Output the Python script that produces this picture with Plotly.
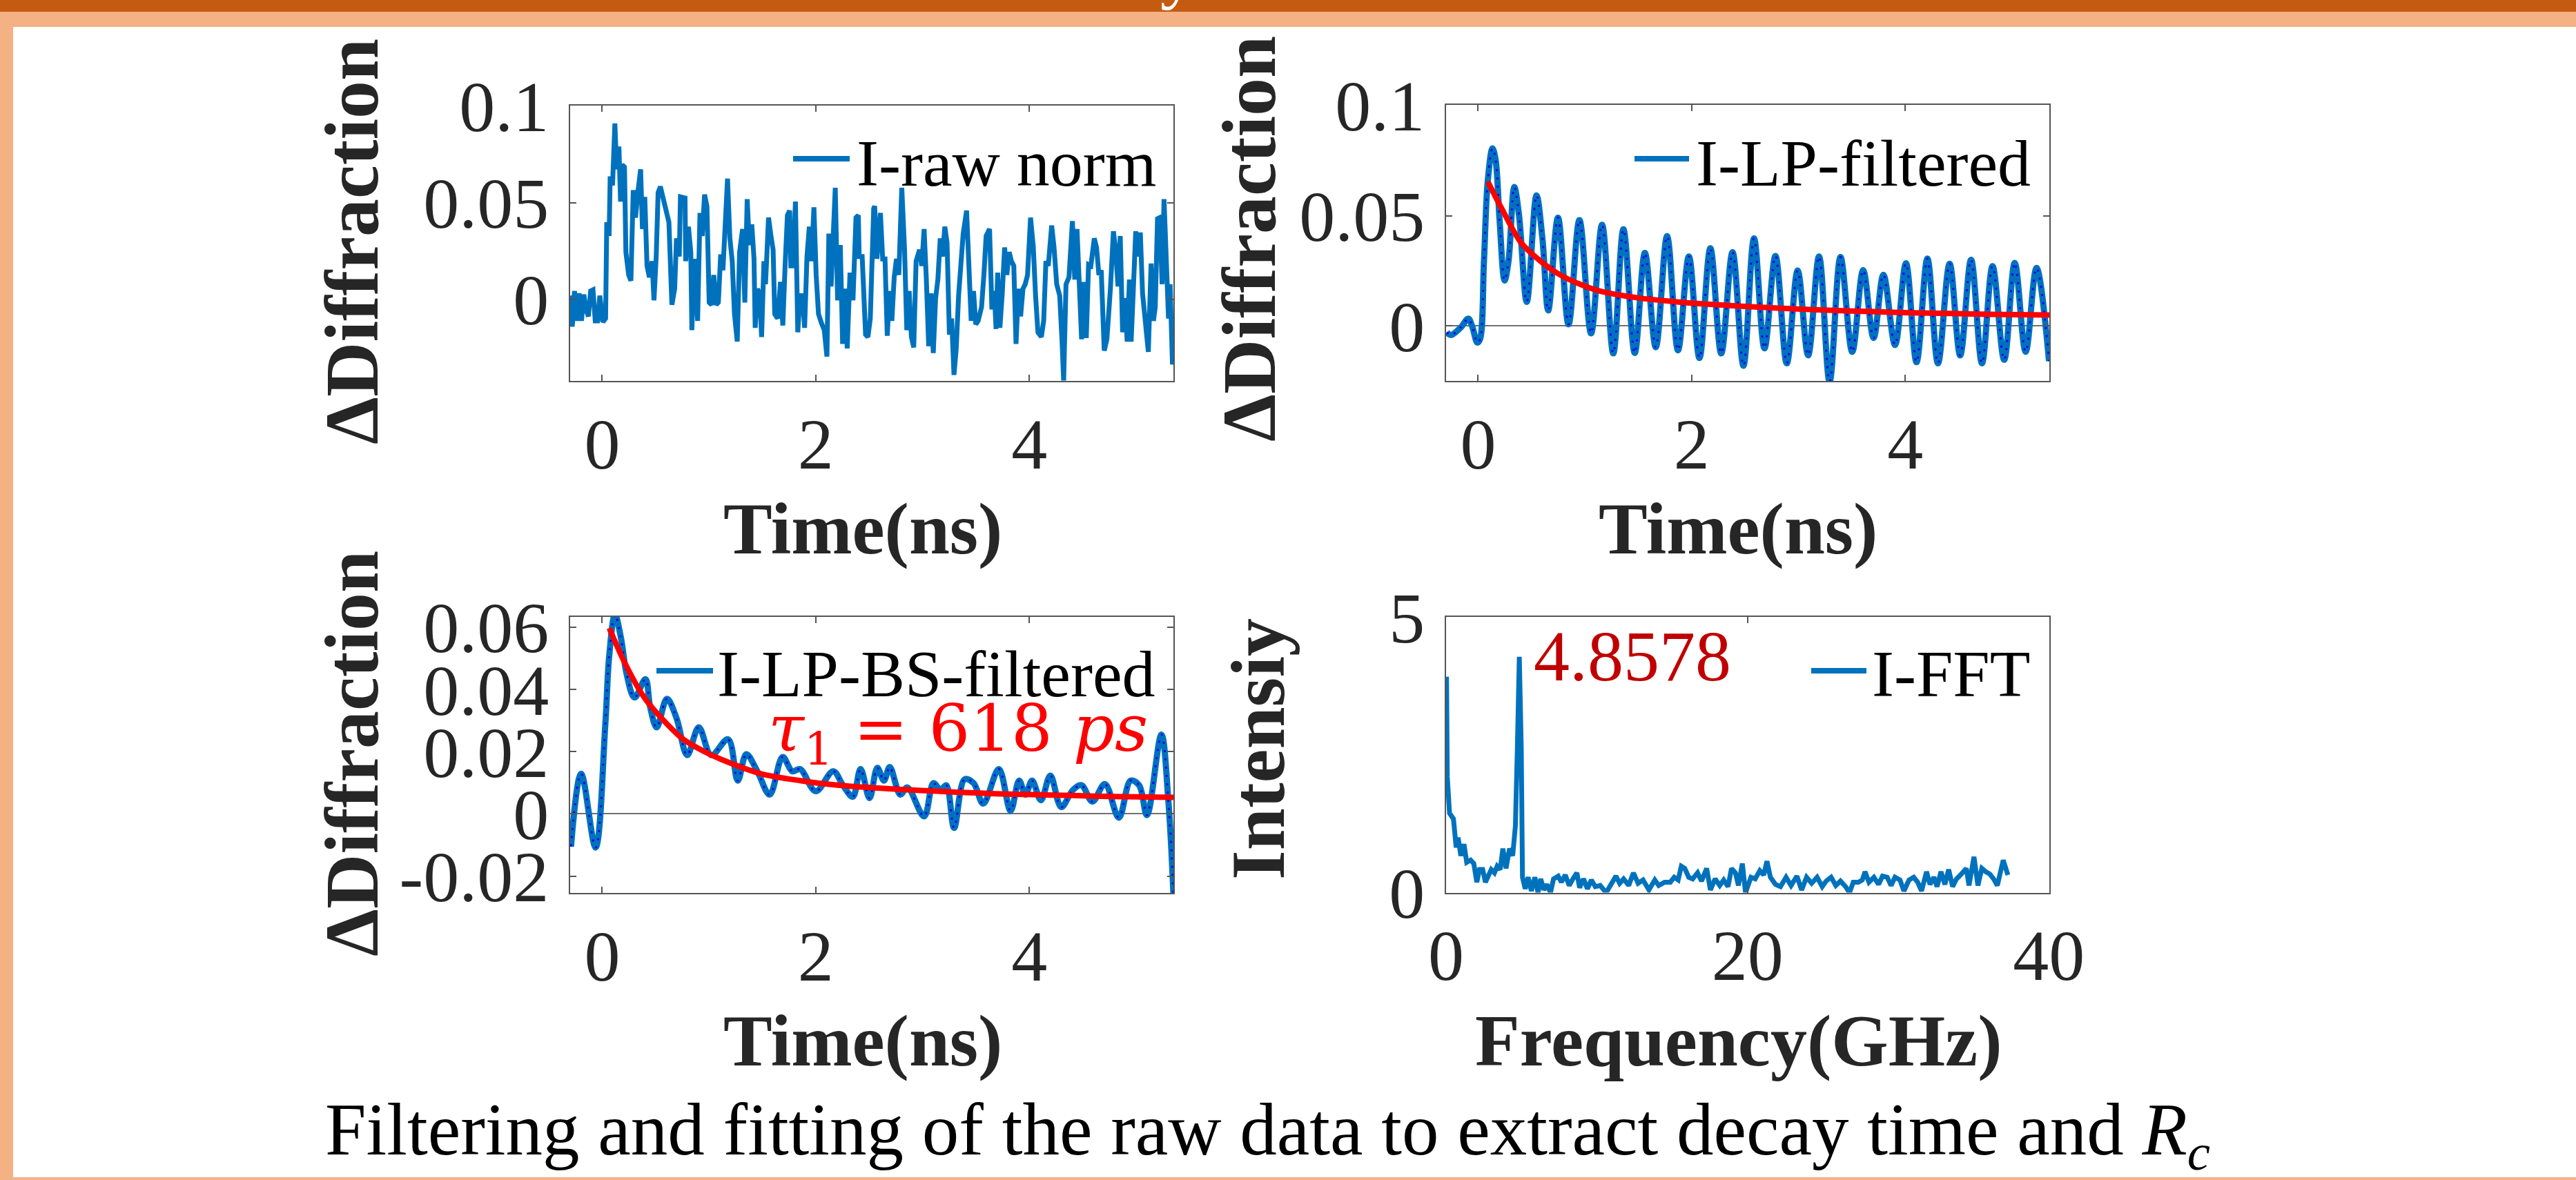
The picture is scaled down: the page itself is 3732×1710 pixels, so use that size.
import plotly.graph_objects as go

# ---------------- data ----------------
# panel 1: raw normalised signal
raw_t = [-0.312, -0.295, -0.280, -0.259, -0.237, -0.216, -0.194, -0.172, -0.151, -0.129,
         -0.108, -0.086, -0.065, -0.043, -0.022, 0.006, 0.032, 0.043, 0.065, 0.075,
         0.097, 0.119, 0.136, 0.157, 0.172, 0.187, 0.209, 0.222, 0.248, 0.269,
         0.291, 0.312, 0.334, 0.360, 0.377, 0.399, 0.420, 0.442, 0.468, 0.485,
         0.506, 0.524, 0.545, 0.571, 0.593, 0.625, 0.653, 0.679, 0.696, 0.722,
         0.733, 0.754, 0.776, 0.782, 0.808, 0.830, 0.840, 0.862, 0.884, 0.894,
         0.916, 0.937, 0.959, 0.981, 1.002, 1.024, 1.045, 1.067, 1.088, 1.110,
         1.131, 1.153, 1.174, 1.196, 1.218, 1.239, 1.265, 1.287, 1.315, 1.336,
         1.358, 1.379, 1.401, 1.422, 1.433, 1.455, 1.476, 1.493, 1.515, 1.530,
         1.558, 1.584, 1.601, 1.616, 1.644, 1.670, 1.692, 1.713, 1.735, 1.756,
         1.767, 1.789, 1.810, 1.832, 1.853, 1.875, 1.896, 1.918, 1.940, 1.961,
         1.983, 2.004, 2.026, 2.054, 2.080, 2.105, 2.123, 2.144, 2.166, 2.183,
         2.205, 2.230, 2.252, 2.274, 2.295, 2.321, 2.349, 2.377, 2.399, 2.407,
         2.435, 2.467, 2.489, 2.511, 2.543,
         2.552, 2.573, 2.606, 2.627, 2.649, 2.670, 2.692, 2.713, 2.735, 2.756,
         2.778, 2.806, 2.832, 2.853, 2.875, 2.896, 2.918, 2.940, 2.972, 2.993,
         3.015, 3.036, 3.058, 3.080, 3.101, 3.123, 3.144, 3.166, 3.187, 3.209,
         3.230, 3.252, 3.273, 3.295, 3.316, 3.338, 3.360, 3.381, 3.413, 3.435,
         3.456, 3.478, 3.499, 3.521, 3.553, 3.575, 3.596, 3.628, 3.650, 3.672,
         3.689, 3.704, 3.725, 3.747, 3.769, 3.790, 3.812, 3.833, 3.855, 3.876,
         3.898, 3.919, 3.941, 3.962, 3.984, 4.012, 4.038, 4.059, 4.081, 4.113,
         4.135, 4.156, 4.178, 4.210, 4.232, 4.257, 4.285, 4.307, 4.322, 4.344,
         4.372, 4.404, 4.426, 4.447, 4.469, 4.490, 4.512, 4.534, 4.555, 4.577,
         4.609, 4.630, 4.652, 4.674, 4.702, 4.727, 4.760, 4.788, 4.809, 4.831,
         4.852, 4.874, 4.895, 4.917, 4.938, 4.954, 4.975, 4.997, 5.018, 5.040,
         5.061, 5.083, 5.115, 5.141, 5.163, 5.180, 5.201, 5.223, 5.244, 5.262,
         5.287, 5.304, 5.319, 5.341, 5.350]
raw_y = [-0.0063, 0.0020, -0.0140, 0.0044, -0.0110, 0.0032, -0.0110, 0.0026, -0.0051, -0.0087,
         0.0044, 0.0050, -0.0110, -0.0110, 0.0020, -0.0116, -0.0098, 0.0399, 0.0328, 0.0636,
         0.0589, 0.0909, 0.0672, 0.0790, 0.0506, 0.0696, 0.0684, 0.0245, 0.0127, 0.0097,
         0.0565, 0.0423, 0.0553, 0.0672, 0.0364, 0.0530, 0.0174, 0.0115, 0.0198, -0.0004,
         0.0222, 0.0553, 0.0583, 0.0530, 0.0470, 0.0399, -0.0027, 0.0056, 0.0316, 0.0222,
         0.0530, 0.0530, 0.0524, 0.0198, 0.0376, 0.0245, -0.0158, 0.0210, -0.0110, -0.0110,
         0.0447, 0.0328, 0.0542, 0.0482, -0.0015, -0.0027, 0.0127, -0.0027, -0.0015, 0.0233,
         0.0151, 0.0364, 0.0624, 0.0316, 0.0198, -0.0075, -0.0217, 0.0245, 0.0364, -0.0015,
         0.0518, 0.0281, 0.0388, 0.0210, -0.0146, 0.0056, 0.0020, -0.0193, 0.0198, 0.0079,
         0.0423, 0.0316, 0.0257, -0.0075, -0.0098, 0.0091, -0.0134, 0.0174, 0.0435, 0.0459,
         0.0174, 0.0174, 0.0506, -0.0169, 0.0020, 0.0020, -0.0146, 0.0222, 0.0376, 0.0198,
         0.0476, 0.0127, -0.0075, -0.0122, -0.0158, -0.0294, 0.0340, 0.0068, 0.0435, 0.0577,
         -0.0004, 0.0281, -0.0229, 0.0056, -0.0252, 0.0139, -0.0004, 0.0423, 0.0435, 0.0222,
         0.0222, -0.0181, -0.0193, -0.0098, 0.0470,
         0.0482, 0.0210, 0.0447, 0.0210, 0.0210, -0.0187, 0.0044, -0.0110, 0.0115, 0.0210,
         0.0127, 0.0577, 0.0257, -0.0158, 0.0044, -0.0193, -0.0247, 0.0198, 0.0257, 0.0174,
         0.0364, 0.0103, -0.0241, 0.0032, -0.0276, 0.0008, 0.0103, 0.0316, 0.0222, 0.0376,
         0.0293, -0.0181, -0.0098, -0.0389, -0.0252, 0.0020, 0.0198, 0.0340, 0.0459, 0.0198,
         -0.0110, 0.0044, -0.0128, -0.0110, -0.0039, 0.0127, 0.0328, 0.0364, -0.0051, 0.0044,
         -0.0152, 0.0139, -0.0146, 0.0032, 0.0269, 0.0127, 0.0245, 0.0198, 0.0174, -0.0229,
         0.0056, -0.0087, 0.0056, 0.0079, 0.0127, 0.0423, 0.0269, 0.0020, -0.0169, -0.0193,
         -0.0110, 0.0198, 0.0174, 0.0382, 0.0269, 0.0079, 0.0020, -0.0217, -0.0418, 0.0079,
         0.0115, 0.0405, 0.0103, 0.0364, -0.0027, -0.0205, 0.0091, -0.0199, 0.0180, 0.0174,
         0.0316, 0.0269, 0.0127, 0.0151, -0.0264, -0.0205, 0.0056, 0.0352, 0.0257, 0.0068,
         0.0328, -0.0169, 0.0008, -0.0217, 0.0103, -0.0217, 0.0056, 0.0352, 0.0222, 0.0346,
         0.0032, -0.0110, -0.0270, 0.0186, -0.0110, -0.0039, 0.0417, 0.0423, 0.0079, 0.0518,
         0.0210, -0.0098, 0.0079, -0.0335, -0.0276]

# panel 2: low-pass filtered signal (turning points) + exponential fit
lp_t = [-0.292, -0.255, -0.164, -0.091, -0.055, -0.007, 0.018, 0.055, 0.091, 0.135,
        0.164, 0.201, 0.248, 0.285, 0.339, 0.383, 0.456, 0.547, 0.602, 0.657,
        0.748, 0.847, 0.949, 1.058, 1.161, 1.266, 1.361, 1.467, 1.562, 1.664,
        1.770, 1.872, 1.974, 2.073, 2.175, 2.277, 2.383, 2.485, 2.584, 2.682,
        2.785, 2.891, 2.993, 3.091, 3.193, 3.292, 3.394, 3.504, 3.606, 3.704,
        3.796, 3.905, 4.007, 4.106, 4.208, 4.307, 4.416, 4.515, 4.617, 4.719,
        4.818, 4.927, 5.026, 5.128, 5.230, 5.347]
lp_y = [-0.0029, -0.0042, -0.0008, 0.0033, -0.0003, -0.0076, -0.0061, 0.0294, 0.0660, 0.0806,
        0.0754, 0.0482, 0.0206, 0.0294, 0.0630, 0.0503, 0.0109, 0.0592, 0.0399, 0.0070,
        0.0491, 0.0007, 0.0480, -0.0034, 0.0459, -0.0125, 0.0438, -0.0123, 0.0331, -0.0097,
        0.0407, -0.0111, 0.0315, -0.0146, 0.0352, -0.0125, 0.0334, -0.0181, 0.0397, -0.0102,
        0.0317, -0.0170, 0.0251, -0.0134, 0.0315, -0.0254, 0.0312, -0.0118, 0.0253, -0.0055,
        0.0232, -0.0087, 0.0284, -0.0165, 0.0305, -0.0170, 0.0282, -0.0134, 0.0300, -0.0170,
        0.0271, -0.0154, 0.0286, -0.0118, 0.0263, -0.0160]
fit2_t = [0.091, 0.219, 0.401, 0.584, 0.766, 0.949, 1.131, 1.496, 1.861, 2.226,
          2.591, 2.956, 3.321, 3.686, 4.051, 4.416, 4.781, 5.350]
fit2_y = [0.0654, 0.0534, 0.0378, 0.0294, 0.0232, 0.0190, 0.0159, 0.0127, 0.0109, 0.0096,
          0.0086, 0.0077, 0.0070, 0.0065, 0.0059, 0.0056, 0.0052, 0.0049]

# panel 3: low-pass + band-stop filtered signal + fit
bs_t = [-0.292, -0.197, -0.062, 0.029, 0.066, 0.120, 0.175, 0.230, 0.303, 0.405,
        0.449, 0.511, 0.606, 0.697, 0.796, 0.905, 1.022, 1.179, 1.270, 1.350,
        1.453, 1.569, 1.690, 1.781, 1.854, 2.000, 2.164, 2.255, 2.347, 2.420,
        2.504, 2.577, 2.639, 2.693, 2.792, 2.858, 3.015, 3.102, 3.168, 3.223,
        3.296, 3.394, 3.478, 3.569, 3.715, 3.825, 3.905, 3.964, 4.026, 4.109,
        4.197, 4.299, 4.409, 4.489, 4.591, 4.708, 4.839, 4.949, 5.029, 5.102,
        5.237, 5.303, 5.350]
bs_y = [-0.0105, 0.0129, -0.0108, 0.0285, 0.0508, 0.0641, 0.0567, 0.0448, 0.0374, 0.0433,
        0.0344, 0.0278, 0.0370, 0.0307, 0.0189, 0.0278, 0.0189, 0.0240, 0.0107, 0.0192,
        0.0137, 0.0062, 0.0183, 0.0137, 0.0144, 0.0073, 0.0137, 0.0092, 0.0055, 0.0144,
        0.0051, 0.0148, 0.0107, 0.0151, 0.0062, 0.0085, -0.0008, 0.0099, 0.0077, 0.0092,
        -0.0045, 0.0111, 0.0099, 0.0033, 0.0144, 0.0010, 0.0107, 0.0062, 0.0107, 0.0044,
        0.0123, 0.0022, 0.0077, 0.0092, 0.0040, 0.0096, -0.0012, 0.0107, 0.0092, -0.0004,
        0.0255, 0.0040, -0.0257]
fit3_t = [0.066, 0.212, 0.394, 0.577, 0.759, 0.942, 1.124, 1.489, 1.854, 2.219,
          2.584, 2.949, 3.314, 3.679, 4.044, 4.409, 4.774, 5.350]
fit3_y = [0.0597, 0.0485, 0.0374, 0.0300, 0.0240, 0.0203, 0.0174, 0.0129, 0.0107, 0.0092,
          0.0083, 0.0076, 0.0070, 0.0065, 0.0062, 0.0059, 0.0056, 0.0053]

# panel 4: FFT spectrum
fft_f = [0.03, 0.08, 0.23, 0.49, 0.67, 0.80, 0.98, 1.19, 1.37, 1.63,
         1.84, 2.04, 2.22, 2.43, 2.61, 2.82, 3.00, 3.21, 3.39, 3.59,
         3.77, 3.98, 4.21, 4.42, 4.60, 4.73, 4.86, 4.99, 5.07, 5.25,
         5.45, 5.66, 5.89, 6.10, 6.28, 6.49, 6.69, 6.93, 7.13, 7.44,
         7.65, 7.91, 8.17, 8.42, 8.68, 8.86, 9.12, 9.38, 9.64, 9.90,
         10.23, 10.62, 10.93, 11.27, 11.52, 11.78, 12.12, 12.43, 12.74, 13.07,
         13.46, 13.85, 14.11, 14.50, 14.88, 15.14, 15.40, 15.61, 15.84, 16.10,
         16.36, 16.69, 16.95, 17.29, 17.54, 17.85, 18.16, 18.42, 18.71, 18.94,
         19.20, 19.40, 19.66, 19.87, 20.23, 20.51, 20.82, 21.08, 21.29, 21.52,
         21.86, 22.19, 22.56, 22.89, 23.28, 23.59, 23.92, 24.26, 24.62, 24.96,
         25.22, 25.55, 25.86, 26.17, 26.51, 26.77, 27.02, 27.36, 27.62, 27.80,
         28.06, 28.39, 28.70, 28.96, 29.27, 29.53, 29.79, 30.12, 30.38, 30.72,
         31.03, 31.29, 31.55, 31.88, 32.11, 32.37, 32.58, 32.84, 33.10, 33.35,
         33.61, 33.87, 34.13, 34.52, 34.70, 35.03, 35.29, 35.55, 35.81, 36.07,
         36.33, 36.58, 36.97, 37.28]
fft_a = [3.92, 2.11, 1.44, 1.34, 0.82, 1.00, 0.67, 0.88, 0.55, 0.59,
         0.53, 0.19, 0.42, 0.42, 0.19, 0.32, 0.42, 0.36, 0.48, 0.42,
         0.80, 0.44, 0.80, 0.67, 1.21, 2.61, 4.28, 2.61, 0.28, 0.07,
         0.28, 0.03, 0.28, 0.00, 0.25, 0.05, 0.15, 0.00, 0.25, 0.30,
         0.19, 0.32, 0.13, 0.25, 0.36, 0.09, 0.25, 0.07, 0.23, 0.11,
         0.13, 0.00, 0.15, 0.30, 0.17, 0.25, 0.13, 0.36, 0.17, 0.23,
         0.05, 0.23, 0.13, 0.19, 0.19, 0.28, 0.23, 0.48, 0.44, 0.28,
         0.25, 0.36, 0.21, 0.44, 0.05, 0.25, 0.13, 0.23, 0.11, 0.44,
         0.36, 0.13, 0.53, 0.00, 0.28, 0.25, 0.40, 0.32, 0.57, 0.28,
         0.15, 0.11, 0.28, 0.13, 0.30, 0.05, 0.28, 0.17, 0.28, 0.11,
         0.21, 0.28, 0.13, 0.21, 0.11, 0.00, 0.19, 0.19, 0.23, 0.38,
         0.19, 0.28, 0.15, 0.30, 0.28, 0.13, 0.28, 0.23, 0.03, 0.23,
         0.28, 0.19, 0.03, 0.38, 0.15, 0.28, 0.11, 0.38, 0.15, 0.42,
         0.11, 0.25, 0.32, 0.44, 0.13, 0.65, 0.13, 0.44, 0.38, 0.34,
         0.25, 0.13, 0.59, 0.32]

peak_label = "4.8578"
tau_label = "<i>τ</i><sub>1</sub> = 618 <i>ps</i>"
caption = "Filtering and fitting of the raw data to extract decay time and <i>R<sub>c</sub></i>"

# ---------------- styling ----------------
W, H = 3732, 1710
BLUE = "#0072BD"
SERIF = "Liberation Serif"
AX = "#555555"
TXT = "#262626"


def px(x):
    return x / W


def py(y):
    return 1 - y / H


fig = go.Figure()

fig.add_trace(go.Scatter(x=raw_t, y=raw_y, mode="lines", line=dict(color=BLUE, width=7),
                         xaxis="x", yaxis="y", showlegend=False))

for t, y, f_t, f_y, ax in [(lp_t, lp_y, fit2_t, fit2_y, "2"), (bs_t, bs_y, fit3_t, fit3_y, "3")]:
    fig.add_trace(go.Scatter(x=t, y=y, mode="lines",
                             line=dict(color=BLUE, width=9, shape="spline", smoothing=1.0),
                             xaxis="x" + ax, yaxis="y" + ax, showlegend=False))
    fig.add_trace(go.Scatter(x=t, y=y, mode="lines",
                             line=dict(color="#0000FF", width=3, shape="spline", smoothing=1.0,
                                       dash="3px,9px"),
                             xaxis="x" + ax, yaxis="y" + ax, showlegend=False))
    fig.add_trace(go.Scatter(x=f_t, y=f_y, mode="lines",
                             line=dict(color="#FF0000", width=8, shape="spline", smoothing=0.8),
                             xaxis="x" + ax, yaxis="y" + ax, showlegend=False))

fig.add_trace(go.Scatter(x=fft_f, y=fft_a, mode="lines", line=dict(color=BLUE, width=7),
                         xaxis="x4", yaxis="y4", showlegend=False))

# axes
boxes = {
    "1": (826, 1700, 152.5, 552),
    "2": (2095, 2969, 152, 552),
    "3": (826, 1700, 893.6, 1294),
    "4": (2095, 2969, 893.6, 1293.6),
}
xr = {"1": [-0.3, 5.35], "2": [-0.3, 5.35], "3": [-0.3, 5.35], "4": [0, 40.03]}
yr = {"1": [-0.042, 0.1003], "2": [-0.025, 0.1003], "3": [-0.0254, 0.0634], "4": [0, 5.01]}
xt = {"1": [0, 2, 4], "2": [0, 2, 4], "3": [0, 2, 4], "4": [0, 20, 40]}
yt = {"1": ([0, 0.05, 0.1], ["0", "0.05", "0.1"]),
      "2": ([0, 0.05, 0.1], ["0", "0.05", "0.1"]),
      "3": ([-0.02, 0, 0.02, 0.04, 0.06], ["-0.02", "0", "0.02", "0.04", "0.06"]),
      "4": ([0, 5], ["0", "5"])}

common = dict(showline=True, linecolor=AX, linewidth=2, mirror="ticks", ticks="inside",
              ticklen=9, tickwidth=2, tickcolor=AX, showgrid=False, automargin=False,
              tickfont=dict(family=SERIF, size=104, color=TXT))

layout_axes = {}
for k, (x0, x1, y0, y1) in boxes.items():
    sfx = "" if k == "1" else k
    layout_axes["xaxis" + sfx] = dict(common, domain=[px(x0), px(x1)], range=xr[k],
                                      anchor="y" + sfx, tickvals=xt[k], zeroline=False,
                                      ticklabelstandoff=0)
    layout_axes["yaxis" + sfx] = dict(common, domain=[py(y1), py(y0)], range=yr[k],
                                      anchor="x" + sfx, tickvals=yt[k][0], ticktext=yt[k][1],
                                      zeroline=k in ("2", "3"), zerolinecolor="#707070",
                                      zerolinewidth=2, ticklabelstandoff=8)

fig.update_layout(width=W, height=H, margin=dict(l=0, r=0, t=0, b=0, autoexpand=False),
                  paper_bgcolor="white", plot_bgcolor="white", showlegend=False,
                  **layout_axes)

# poster frame
shapes = [
    dict(type="rect", x0=0, x1=1, y0=py(17), y1=1, fillcolor="#C55A11", line_width=0),
    dict(type="rect", x0=0, x1=1, y0=py(39), y1=py(17), fillcolor="#F4B183", line_width=0),
    dict(type="rect", x0=0, x1=px(19), y0=0, y1=py(39), fillcolor="#F4B183", line_width=0),
    dict(type="rect", x0=0, x1=1, y0=0, y1=py(1706), fillcolor="#F4B183", line_width=0),
]
for s in shapes:
    s.update(xref="paper", yref="paper", layer="below")

# legend samples
leg = [(1149, 1231, 230, "I-raw norm", 1239, 236),
       (2368, 2447, 230, "I-LP-filtered", 2455, 236),
       (951, 1033, 972, "I-LP-BS-filtered", 1037, 976),
       (2624, 2704, 972, "I-FFT", 2710, 976)]
annotations = []
for lx0, lx1, ly, label, tx, ty in leg:
    shapes.append(dict(type="line", xref="paper", yref="paper", x0=px(lx0), x1=px(lx1),
                       y0=py(ly), y1=py(ly), line=dict(color=BLUE, width=8)))
    annotations.append(dict(text=label, x=px(tx), y=py(ty), xanchor="left", yanchor="middle",
                            font=dict(family=SERIF, size=96, color="black")))

# axis titles
for label, x, y in [("<b>ΔDiffraction</b>", 510, 350), ("<b>ΔDiffraction</b>", 1810, 346),
                    ("<b>ΔDiffraction</b>", 510, 1092), ("<b>Intensiy</b>", 1823, 1086)]:
    annotations.append(dict(text=label, x=px(x), y=py(y), textangle=-90, xanchor="center",
                            yanchor="middle", font=dict(family=SERIF, size=110, color=TXT)))
for label, x, y in [("<b>Time(ns)</b>", 1250, 766), ("<b>Time(ns)</b>", 2518, 766),
                    ("<b>Time(ns)</b>", 1250, 1508), ("<b>Frequency(GHz)</b>", 2518, 1508)]:
    annotations.append(dict(text=label, x=px(x), y=py(y), xanchor="center", yanchor="middle",
                            font=dict(family=SERIF, size=106, color=TXT)))

annotations += [
    dict(text=peak_label, x=px(2365), y=py(950), xanchor="center", yanchor="middle",
         font=dict(family=SERIF, size=104, color="#C00000")),
    dict(text=tau_label, x=px(1388), y=py(1062), xanchor="center", yanchor="middle",
         font=dict(family="DejaVu Serif", size=94, color="#FF0000")),
    dict(text=caption, x=px(469), y=py(1644), xanchor="left", yanchor="middle",
         font=dict(family=SERIF, size=107, color="black")),
    dict(text="y", x=px(1707), y=py(17), xanchor="center", yanchor="bottom",
         font=dict(family=SERIF, size=104, color="white")),
]
for a in annotations:
    a.update(xref="paper", yref="paper", showarrow=False)

fig.update_layout(shapes=shapes, annotations=annotations)

fig.write_html("out.html", config={"displayModeBar": False},
               post_script="document.body.style.margin='0';")
